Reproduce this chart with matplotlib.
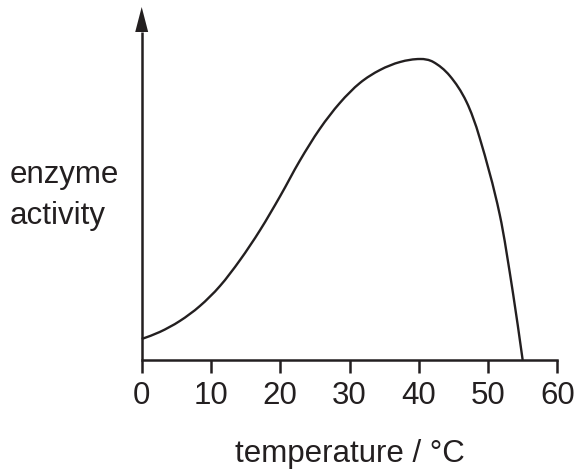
import matplotlib
matplotlib.use("Agg")
import matplotlib.pyplot as plt
from matplotlib.patches import Polygon, PathPatch
from matplotlib.path import Path

# values (activity in arbitrary units)
temperature = [0, 2.6, 5.5, 8.4, 11.3, 14.2, 17.1, 20.0, 22.8, 25.7, 28.6,
               31.5, 34.4, 37.3, 40.2, 42.1, 44.5, 46.9, 48.8, 51.7, 53.6, 55]
activity = [21, 28, 39, 54, 74, 100, 130, 164, 199, 231, 257,
            277, 290, 298, 301, 298, 284, 258, 222, 145, 67, 0]
xticks = [0, 10, 20, 30, 40, 50, 60]

ink = "#231f20"
fs = 22.5
plt.rcParams["font.family"] = ["Liberation Sans", "DejaVu Sans"]


def smooth_path(xs, ys):
    # cubic Hermite through the points, drawn as Bezier segments
    n = len(xs)
    m = []
    for i in range(n):
        a = max(i - 1, 0)
        b = min(i + 1, n - 1)
        m.append((ys[b] - ys[a]) / (xs[b] - xs[a]))
    verts = [(xs[0], ys[0])]
    codes = [Path.MOVETO]
    for i in range(n - 1):
        h = xs[i + 1] - xs[i]
        verts += [(xs[i] + h / 3, ys[i] + m[i] * h / 3),
                  (xs[i + 1] - h / 3, ys[i + 1] - m[i + 1] * h / 3),
                  (xs[i + 1], ys[i + 1])]
        codes += [Path.CURVE4] * 3
    return Path(verts, codes)


fig = plt.figure(figsize=(5.77, 4.69), dpi=100)
ax = fig.add_axes([141.7 / 577, 109 / 469, 415.6 / 577, 353 / 469])

curve = PathPatch(smooth_path(temperature, activity), facecolor="none",
                  edgecolor=ink, lw=1.7, clip_on=False, capstyle="butt")
ax.add_patch(curve)

ax.set_xlim(0, 60)
ax.set_ylim(0, 353)
for s in ["left", "top", "right"]:
    ax.spines[s].set_visible(False)
ax.spines["bottom"].set_linewidth(1.8)
ax.spines["bottom"].set_color(ink)
ax.set_yticks([])
ax.set_xticks(xticks)
ax.tick_params(axis="x", length=9.1, width=1.8, color=ink, labelcolor=ink,
               labelsize=fs, pad=6)

# y axis with arrow head
ax.plot([0, 0], [0, 0.93], transform=ax.transAxes, color=ink, lw=1.8,
        clip_on=False, solid_capstyle="butt")
head = Polygon([[0, 1.0], [-0.0156, 0.9292], [0.0156, 0.9292]], closed=True,
               transform=ax.transAxes, color=ink, clip_on=False, lw=0)
ax.add_patch(head)

fig.text(10 / 577, (469 - 183) / 469, "enzyme", fontsize=fs, color=ink,
         ha="left", va="baseline")
fig.text(10 / 577, (469 - 224) / 469, "activity", fontsize=fs, color=ink,
         ha="left", va="baseline")
fig.text(349.5 / 577, 7 / 469, "temperature / °C", fontsize=fs, color=ink,
         ha="center", va="baseline")

fig.savefig("out.png", dpi=100)
